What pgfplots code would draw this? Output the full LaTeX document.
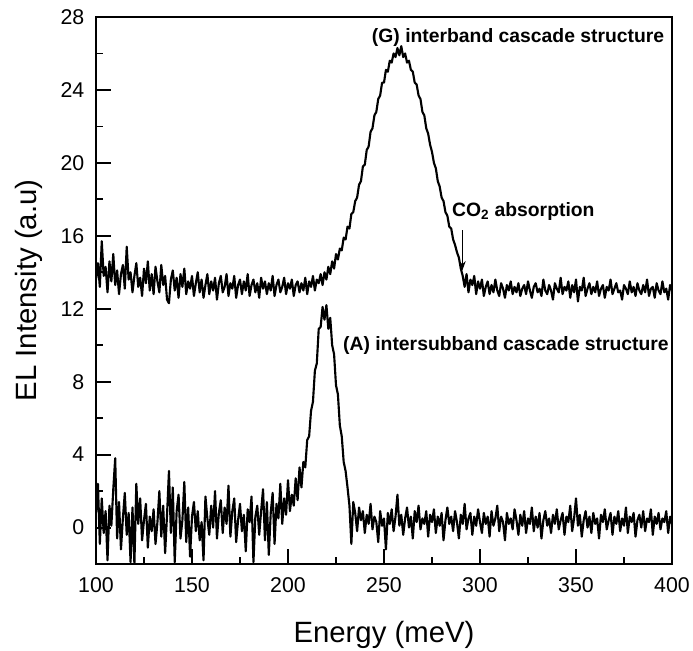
\documentclass[border=0pt]{standalone}
\usepackage{fontspec}
\setmainfont{Liberation Sans}
\usepackage{pgfplots}
\pgfplotsset{compat=1.18}
\usetikzlibrary{arrows.meta}
\begin{document}
\begin{tikzpicture}
\begin{axis}[
  scale only axis, width=432pt, height=410.25pt,
  xmin=100, xmax=400, ymin=-2, ymax=28,
  xtick={100,150,...,400}, ytick={0,4,...,28},
  minor xtick={125,150,175,200,225,250,275,300,325,350,375},
  minor ytick={-2,0,2,4,6,8,10,12,14,16,18,20,22,24,26},
  tick align=inside, xtick pos=left, ytick pos=left,
  major tick length=11pt, minor tick length=5.5pt,
  axis line style={line width=1.5pt},
  major tick style={line width=1.5pt, black},
  minor tick style={line width=1.3pt, black},
  /pgf/number format/assume math mode=true,
  tick label style={font=\fontsize{16}{19}\selectfont},
  yticklabel style={xshift=-5.2pt},
  xticklabel style={yshift=-6.5pt},
  xlabel={Energy (meV)}, ylabel={EL Intensity (a.u)},
  label style={font=\fontsize{22}{26}\selectfont},
  xlabel style={at={(axis description cs:0.5,-0.1426)}, anchor=base},
  ylabel style={at={(axis description cs:-0.103,0.5)}, anchor=base, rotate=0},
]
\addplot[black, line width=1.6pt, line join=round] coordinates {
(100,13.6)(101,14.5)(102,13.2)(103,15.7)(104,13.8)(105,14.3)(106,12.9)(107,14.6)(108,13.5)(109,15.0)
(110,13.3)(111,14.1)(112,12.8)(113,13.9)(114,14.4)(115,13.1)(116,15.4)(117,13.6)(118,14.0)(119,12.9)
(120,13.8)(121,14.5)(122,13.2)(123,13.7)(124,12.7)(125,14.2)(126,13.4)(127,14.6)(128,13.0)(129,13.9)
(130,12.8)(131,14.3)(132,13.5)(133,12.9)(134,14.4)(135,13.3)(136,13.8)(137,12.5)(138,12.3)(139,13.6)
(140,14.1)(141,13.0)(142,13.7)(143,12.6)(144,13.9)(145,13.2)(146,14.2)(147,12.8)(148,13.5)(149,13.1)
(150,13.8)(151,12.7)(152,13.4)(153,14.0)(154,12.9)(155,13.6)(156,12.6)(157,13.3)(158,13.9)(159,12.8)
(160,13.5)(161,13.0)(162,13.7)(163,12.5)(164,13.4)(165,13.8)(166,12.9)(167,13.2)(168,13.9)(169,12.7)
(170,13.4)(171,13.1)(172,13.8)(173,12.6)(174,13.3)(175,13.6)(176,12.8)(177,13.5)(178,13.0)(179,13.9)
(180,12.7)(181,13.3)(182,13.6)(183,12.9)(184,13.4)(185,12.6)(186,13.7)(187,13.1)(188,13.5)(189,12.8)
(190,13.4)(191,13.0)(192,13.8)(193,12.7)(194,13.3)(195,13.6)(196,12.9)(197,13.2)(198,13.7)(199,12.8)
(200,13.4)(201,13.1)(202,13.6)(203,12.7)(204,13.3)(205,13.5)(206,12.9)(207,13.4)(208,13.0)(209,13.7)
(210,12.8)(211,13.5)(212,13.2)(213,13.8)(214,13.0)(215,13.6)(216,13.4)(217,13.9)(218,13.3)(219,14.0)
(220,13.6)(221,14.3)(222,13.9)(223,14.6)(224,14.2)(225,15.0)(226,14.7)(227,15.3)(228,15.2)(229,15.9)
(230,15.8)(231,16.5)(232,16.4)(233,17.2)(234,17.3)(235,17.9)(236,18.1)(237,18.8)(238,19.0)(239,19.8)
(240,19.9)(241,20.7)(242,20.9)(243,21.7)(244,21.9)(245,22.6)(246,22.8)(247,23.5)(248,23.7)(249,24.4)
(250,24.4)(251,25.1)(252,25.0)(253,25.6)(254,25.5)(255,26.0)(256,25.8)(257,26.3)(258,25.9)(259,26.4)
(260,25.8)(261,26.0)(262,25.5)(263,25.6)(264,25.1)(265,25.0)(266,24.4)(267,24.3)(268,23.7)(269,23.5)
(270,22.8)(271,22.6)(272,21.9)(273,21.6)(274,21.0)(275,20.6)(276,20.0)(277,19.7)(278,19.0)(279,18.7)
(280,18.1)(281,17.9)(282,17.3)(283,17.1)(284,16.5)(285,16.4)(286,15.8)(287,15.5)(288,15.1)(289,14.8)
(290,14.2)(291,13.8)(292,13.2)(293,13.9)(294,12.9)(295,13.6)(296,13.3)(297,13.8)(298,12.8)(299,13.5)
(300,13.1)(301,13.6)(302,12.7)(303,13.2)(304,13.5)(305,12.8)(306,13.3)(307,12.9)(308,13.6)(309,13.0)
(310,12.7)(311,13.4)(312,13.1)(313,12.6)(314,13.3)(315,13.0)(316,13.5)(317,12.8)(318,13.2)(319,12.9)
(320,13.4)(321,12.7)(322,13.1)(323,13.3)(324,12.8)(325,13.5)(326,13.0)(327,12.6)(328,13.2)(329,13.4)
(330,12.9)(331,13.1)(332,12.7)(333,13.6)(334,13.0)(335,12.8)(336,13.3)(337,13.0)(338,12.5)(339,13.4)
(340,13.1)(341,12.9)(342,13.7)(343,12.8)(344,13.2)(345,13.0)(346,13.5)(347,12.6)(348,13.3)(349,12.9)
(350,13.6)(351,12.4)(352,13.2)(353,13.0)(354,13.7)(355,12.7)(356,13.1)(357,13.4)(358,12.8)(359,13.2)
(360,12.9)(361,13.5)(362,12.7)(363,13.1)(364,13.3)(365,12.6)(366,13.2)(367,13.0)(368,13.6)(369,12.8)
(370,13.1)(371,13.4)(372,12.9)(373,13.0)(374,12.5)(375,13.3)(376,13.1)(377,12.8)(378,13.5)(379,12.9)
(380,13.2)(381,12.7)(382,13.4)(383,13.0)(384,12.8)(385,13.3)(386,12.9)(387,13.6)(388,12.7)(389,13.1)
(390,13.2)(391,12.6)(392,13.4)(393,13.0)(394,12.8)(395,13.5)(396,12.9)(397,13.1)(398,12.5)(399,13.3)
(400,13.0)
};
\addplot[black, line width=1.6pt, line join=round] coordinates {
(100,0.8)(101,2.4)(102,-0.9)(103,1.6)(104,-0.3)(105,0.9)(106,-1.8)(107,1.2)(108,0.1)(109,2.1)
(110,3.8)(111,-0.6)(112,1.4)(113,-1.2)(114,0.5)(115,1.9)(116,-0.4)(117,0.8)(118,-1.9)(119,1.1)
(120,-2.0)(121,2.4)(122,0.2)(123,1.6)(124,-0.7)(125,0.4)(126,1.3)(127,-1.1)(128,0.6)(129,-0.2)
(130,1.0)(131,-0.9)(132,0.3)(133,2.0)(134,-0.5)(135,1.2)(136,-1.4)(137,0.7)(138,3.1)(139,-0.3)
(140,2.2)(141,-1.9)(142,0.9)(143,1.8)(144,-0.6)(145,0.4)(146,2.5)(147,-0.8)(148,1.1)(149,-1.6)
(150,0.6)(151,1.4)(152,-0.2)(153,0.9)(154,-0.7)(155,0.3)(156,-1.8)(157,1.7)(158,0.5)(159,-0.4)
(160,1.2)(161,0.0)(162,2.0)(163,-0.6)(164,0.8)(165,1.5)(166,-0.3)(167,1.1)(168,0.2)(169,2.3)
(170,-0.5)(171,0.9)(172,1.6)(173,-0.8)(174,0.4)(175,1.3)(176,-0.2)(177,0.7)(178,-1.3)(179,1.0)
(180,0.3)(181,1.7)(182,-1.9)(183,0.6)(184,1.2)(185,-0.4)(186,0.9)(187,2.1)(188,-0.7)(189,1.4)
(190,-1.5)(191,0.8)(192,1.9)(193,-0.9)(194,1.3)(195,0.5)(196,2.4)(197,0.2)(198,1.6)(199,0.7)
(200,2.6)(201,0.9)(202,1.8)(203,1.2)(204,2.7)(205,1.5)(206,3.3)(207,2.2)(208,3.6)(209,3.3)
(210,4.8)(211,5.0)(212,6.4)(213,6.9)(214,8.6)(215,9.0)(216,10.9)(217,11.0)(218,12.1)(219,11.4)
(220,12.2)(221,10.9)(222,11.5)(223,10.0)(224,9.5)(225,7.8)(226,7.3)(227,5.6)(228,5.0)(229,3.6)
(230,3.1)(231,2.2)(232,1.2)(233,-0.9)(234,1.4)(235,0.8)(236,-0.2)(237,1.1)(238,0.4)(239,0.9)
(240,-0.3)(241,0.7)(242,0.2)(243,1.3)(244,-0.1)(245,0.6)(246,0.3)(247,-0.8)(248,0.9)(249,0.1)
(250,0.5)(251,-1.2)(252,0.8)(253,0.2)(254,1.0)(255,-0.2)(256,0.6)(257,1.8)(258,0.1)(259,0.7)
(260,-0.4)(261,0.5)(262,1.1)(263,0.0)(264,0.6)(265,-0.6)(266,0.9)(267,0.3)(268,1.2)(269,-0.1)
(270,0.5)(271,0.2)(272,0.9)(273,-0.5)(274,0.7)(275,0.3)(276,1.0)(277,-0.3)(278,0.6)(279,0.1)
(280,0.8)(281,-0.7)(282,0.4)(283,1.1)(284,0.2)(285,0.6)(286,-0.2)(287,0.9)(288,0.3)(289,-0.6)
(290,0.7)(291,0.2)(292,1.3)(293,-0.1)(294,0.5)(295,0.8)(296,-0.4)(297,0.6)(298,0.1)(299,1.0)
(300,0.3)(301,-0.3)(302,0.8)(303,0.2)(304,0.6)(305,-0.5)(306,0.9)(307,0.1)(308,0.5)(309,1.2)
(310,-0.2)(311,0.6)(312,0.3)(313,-0.7)(314,0.8)(315,0.2)(316,0.5)(317,-0.1)(318,1.0)(319,0.4)
(320,-0.4)(321,0.7)(322,0.1)(323,0.9)(324,-0.3)(325,0.5)(326,0.2)(327,1.1)(328,-0.2)(329,0.6)
(330,0.0)(331,0.8)(332,-0.6)(333,0.4)(334,0.9)(335,0.1)(336,0.5)(337,-0.3)(338,0.7)(339,0.2)
(340,1.0)(341,-0.1)(342,0.4)(343,0.8)(344,-0.4)(345,0.6)(346,0.3)(347,1.2)(348,-0.2)(349,0.5)
(350,1.6)(351,0.1)(352,0.7)(353,-0.5)(354,0.4)(355,0.9)(356,0.0)(357,0.6)(358,-0.3)(359,0.8)
(360,0.2)(361,0.5)(362,-0.6)(363,0.7)(364,0.3)(365,1.0)(366,-0.1)(367,0.4)(368,0.8)(369,-0.4)
(370,0.6)(371,0.2)(372,0.9)(373,-0.2)(374,0.5)(375,0.1)(376,1.1)(377,-0.3)(378,0.6)(379,0.3)
(380,0.8)(381,-0.5)(382,0.4)(383,0.7)(384,0.0)(385,0.9)(386,-0.2)(387,0.5)(388,0.3)(389,1.0)
(390,-0.4)(391,0.6)(392,0.2)(393,0.8)(394,-0.1)(395,0.5)(396,0.3)(397,0.9)(398,-0.3)(399,0.6)
(400,0.2)
};
\node[anchor=west, inner sep=0pt, font=\bfseries\fontsize{14.5}{17}\selectfont] at (axis cs:243.6,26.9) {(G) interband cascade structure};
\node[anchor=west, inner sep=0pt, font=\bfseries\fontsize{14.5}{17}\selectfont] at (axis cs:285.3,17.35) {CO\textsubscript{2} absorption};
\node[anchor=west, inner sep=0pt, font=\bfseries\fontsize{14.5}{17}\selectfont] at (axis cs:228.6,10.0) {(A) intersubband cascade structure};
\draw[line width=0.8pt, -{Stealth[length=7pt,width=5pt]}] (axis cs:290.8,16.3) -- (axis cs:290.8,14.1);
\end{axis}
\pgfresetboundingbox
\path[use as bounding box] ([shift={(-72pt,-64.5pt)}]current axis.south west) rectangle ([shift={(15.75pt,12.75pt)}]current axis.north east);
\end{tikzpicture}
\end{document}
